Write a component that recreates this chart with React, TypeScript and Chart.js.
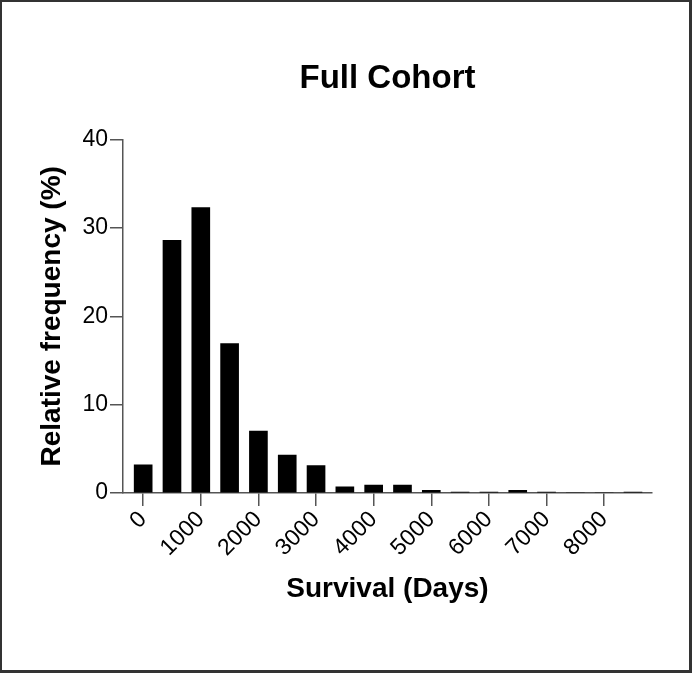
import React, { useEffect, useRef } from "react";
import { Chart, registerables } from "chart.js";

Chart.register(...registerables);

const BIN_CENTERS = [0, 500, 1000, 1500, 2000, 2500, 3000, 3500, 4000, 4500, 5000, 5500, 6000, 6500, 7000, 7500, 8000, 8500];
const FREQUENCY = [3.2, 28.6, 32.3, 16.9, 7.0, 4.3, 3.1, 0.7, 0.9, 0.9, 0.3, 0.1, 0.1, 0.3, 0.1, 0, 0, 0.1];
const X_TICKS = [0, 1000, 2000, 3000, 4000, 5000, 6000, 7000, 8000];
const Y_TICKS = [0, 10, 20, 30, 40];

const TITLE = "Full Cohort";
const X_TITLE = "Survival (Days)";
const Y_TITLE = "Relative frequency (%)";

const FONT = "'Liberation Sans', Arial, Helvetica, sans-serif";
const AXIS_COLOR = "#555555";

export default function App() {
  const canvasRef = useRef<HTMLCanvasElement | null>(null);

  useEffect(() => {
    if (!canvasRef.current) return;
    const points = BIN_CENTERS.map((x, i) => ({ x, y: FREQUENCY[i] }));
    const chart = new Chart(canvasRef.current, {
      type: "bar",
      data: {
        datasets: [
          {
            data: points as any,
            backgroundColor: "#000000",
            borderWidth: 0,
            barThickness: 18,
          },
        ],
      },
      options: {
        animation: false,
        responsive: false,
        maintainAspectRatio: false,
        layout: { padding: { left: 0, right: 37, top: 0, bottom: 0 } },
        plugins: {
          legend: { display: false },
          tooltip: { enabled: false },
          title: {
            display: true,
            fullSize: false,
            text: TITLE,
            color: "#000",
            font: { family: FONT, size: 33, weight: "bold" },
            padding: { top: 57, bottom: 41 },
          },
        },
        scales: {
          x: {
            type: "linear",
            min: -350,
            max: 8830,
            offset: false,
            afterFit: (scale: any) => {
              scale.height = 177;
            },
            afterBuildTicks: (scale: any) => {
              scale.ticks = X_TICKS.map((v) => ({ value: v }));
            },
            ticks: {
              color: "#000",
              font: { family: FONT, size: 23 },
              minRotation: 45,
              maxRotation: 45,
              padding: 0,
              autoSkip: false,
              callback: (value: any) => String(value),
            },
            grid: {
              display: true,
              offset: false,
              drawOnChartArea: false,
              drawTicks: true,
              tickLength: 13,
              color: AXIS_COLOR,
              lineWidth: 1.5,
            },
            border: { display: true, color: AXIS_COLOR, width: 1.5 },
            title: {
              display: true,
              text: X_TITLE,
              color: "#000",
              font: { family: FONT, size: 28, weight: "bold" },
              padding: { top: 0, bottom: 64 },
            },
          },
          y: {
            type: "linear",
            min: 0,
            max: 40,
            afterFit: (scale: any) => {
              scale.width = 121;
            },
            afterBuildTicks: (scale: any) => {
              scale.ticks = Y_TICKS.map((v) => ({ value: v }));
            },
            ticks: {
              color: "#000",
              font: { family: FONT, size: 23 },
              padding: 2,
            },
            grid: {
              display: true,
              drawOnChartArea: false,
              drawTicks: true,
              tickLength: 13,
              color: AXIS_COLOR,
              lineWidth: 1.5,
            },
            border: { display: true, color: AXIS_COLOR, width: 1.5 },
            title: {
              display: true,
              text: Y_TITLE,
              color: "#000",
              font: { family: FONT, size: 28, weight: "bold" },
              padding: { top: 33, bottom: 0 },
            },
          },
        },
      },
    });
    return () => chart.destroy();
  }, []);

  return (
    <>
      <style>{`body{margin:0;background:#fff}`}</style>
      <div
        style={{
          width: 692,
          height: 673,
          boxSizing: "border-box",
          borderStyle: "solid",
          borderColor: "#333",
          borderWidth: "2px 3px 3px 2px",
          background: "#fff",
        }}
      >
        <canvas ref={canvasRef} width={687} height={668} style={{ display: "block", width: 687, height: 668 }} />
      </div>
    </>
  );
}
